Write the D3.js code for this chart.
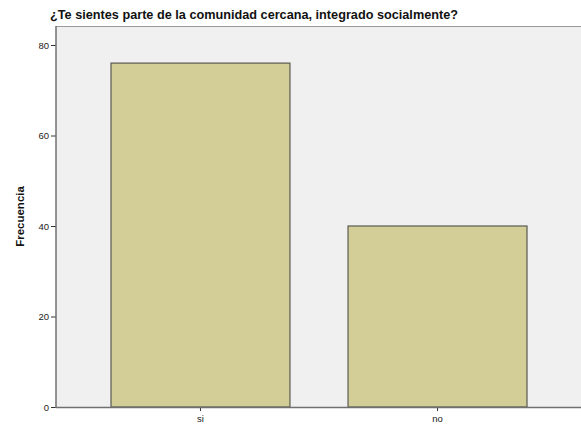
<!DOCTYPE html>
<html><head><meta charset="utf-8">
<script src="https://cdn.jsdelivr.net/npm/d3@7"></script>
<style>body{margin:0;background:#fff}svg{display:block}</style>
</head><body>
<script>
const categories = ["si", "no"];
const values = [76, 40];
const yTicks = [0, 20, 40, 60, 80];
const title = "¿Te sientes parte de la comunidad cercana, integrado socialmente?";
const yLabel = "Frecuencia";

(function () {
const W = 581, H = 425;
const mLeft = 56, mRight = 582, mTop = 26, mBottom = 407;
const svg = d3.select("body").append("svg").attr("width", W).attr("height", H);
const font = "'Liberation Sans', Arial, sans-serif";

const x = d3.scaleBand().domain(categories).range([mLeft, mRight]).paddingInner(0.245).paddingOuter(0.232);
const y = d3.scaleLinear().domain([0, 80]).range([mBottom, 45]);

svg.append("rect").attr("x", mLeft).attr("y", mTop).attr("width", W - mLeft + 5).attr("height", mBottom - mTop)
  .attr("fill", "#f0f0f0");
svg.append("line").attr("x1", mLeft).attr("x2", W).attr("y1", mTop + 0.5).attr("y2", mTop + 0.5).attr("stroke", "#9a9a9a");

svg.selectAll("rect.bar").data(categories).enter().append("rect").attr("class", "bar")
  .attr("x", d => x(d)).attr("y", (d, i) => y(values[i]))
  .attr("width", x.bandwidth()).attr("height", (d, i) => y(0) - y(values[i]))
  .attr("fill", "#d3ce98").attr("stroke", "#5a5a50").attr("stroke-width", 1.2);

const ya = svg.append("g").attr("transform", `translate(${mLeft},0)`)
  .call(d3.axisLeft(y).tickValues(yTicks).tickSize(5).tickPadding(2));
ya.select(".domain").remove();
ya.selectAll("line").attr("stroke", "#333");
ya.selectAll("text").attr("font-family", font).attr("font-size", 9.5).attr("fill", "#222");
svg.append("line").attr("x1", mLeft).attr("x2", mLeft).attr("y1", mTop).attr("y2", mBottom + 1)
  .attr("stroke", "#707070").attr("stroke-width", 1.5);

const xa = svg.append("g").attr("transform", `translate(0,${mBottom})`)
  .call(d3.axisBottom(x).tickSize(4).tickPadding(4));
xa.select(".domain").remove();
xa.selectAll("line").attr("stroke", "#333");
xa.selectAll("text").attr("font-family", font).attr("font-size", 9.5).attr("fill", "#222");
svg.append("line").attr("x1", mLeft).attr("x2", W).attr("y1", mBottom + 0.5).attr("y2", mBottom + 0.5)
  .attr("stroke", "#707070").attr("stroke-width", 1.5);

svg.append("text").attr("x", 50).attr("y", 19).attr("font-family", font).attr("font-weight", "bold")
  .attr("font-size", 12.7).attr("fill", "#111").text(title);
svg.append("text").attr("transform", `translate(24,${(mTop + mBottom) / 2}) rotate(-90)`)
  .attr("text-anchor", "middle").attr("font-family", font).attr("font-weight", "bold")
  .attr("font-size", 11.5).attr("fill", "#111").text(yLabel);
})();
</script>
</body></html>
